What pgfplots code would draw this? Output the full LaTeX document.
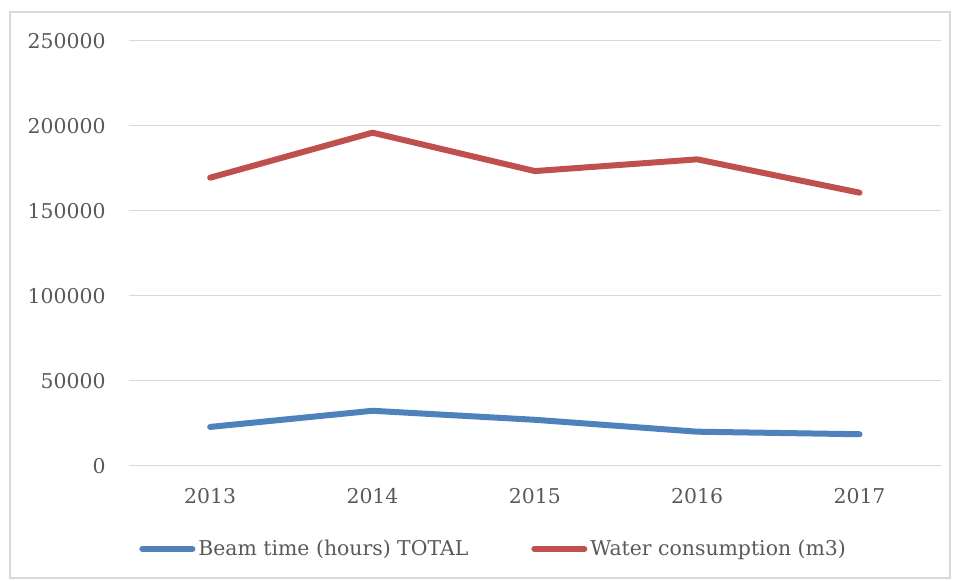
\documentclass[border=0pt]{standalone}
\usepackage{fontspec}
\setmainfont{DejaVu Serif}
\usepackage{pgfplots}
\pgfplotsset{compat=1.18}
\definecolor{beam}{HTML}{4F81BD}
\definecolor{water}{HTML}{C0504D}
\definecolor{gridc}{HTML}{D9D9D9}
\definecolor{txt}{HTML}{595959}
\begin{document}
\begin{tikzpicture}
\useasboundingbox (-64.5pt,-57.65pt) rectangle (414.5pt,232.85pt);
\draw[gridc, line width=0.75pt] (-59.5pt,-56.15pt) rectangle (410.5pt,226.85pt);
\begin{axis}[
 at={(0pt,0pt)}, anchor=south west,
 scale only axis, width=405.85pt, height=212.5pt,
 xmin=-0.5, xmax=4.5, ymin=0, ymax=250000,
 scaled y ticks=false,
 xtick={0,...,4}, xticklabels={2013,2014,2015,2016,2017},
 ytick={0,50000,100000,150000,200000,250000},
 yticklabels={0,50000,100000,150000,200000,250000},
 axis line style={draw=none},
 major tick length=0pt,
 ymajorgrids, grid style={gridc, line width=0.75pt},
 tick label style={font=\fontsize{10.2pt}{12pt}\selectfont, text=txt},
 yticklabel style={anchor=east, inner sep=0pt, xshift=-11.5pt},
 xticklabel style={anchor=north, inner sep=0pt, yshift=-11.3pt},
 legend style={at={(0.0123,-0.196)}, anchor=west, draw=none, fill=none, inner sep=0pt,
   font=\fontsize{10.2pt}{12pt}\selectfont, text=txt,
   /tikz/every even column/.append style={column sep=30pt},
   nodes={inner sep=1.5pt}},
 legend columns=2,
 legend image code/.code={\draw[#1, line cap=round] (0pt,0pt) -- (25pt,0pt);},
]
\addplot[beam, line width=3pt, line cap=round, line join=round]
  coordinates {(0,22800)(1,32300)(2,27000)(3,20000)(4,18500)};
\addlegendentry{Beam time (hours) TOTAL}
\addplot[water, line width=3pt, line cap=round, line join=round]
  coordinates {(0,169400)(1,195900)(2,173300)(3,180200)(4,160600)};
\addlegendentry{Water consumption (m3)}
\end{axis}
\end{tikzpicture}
\end{document}
